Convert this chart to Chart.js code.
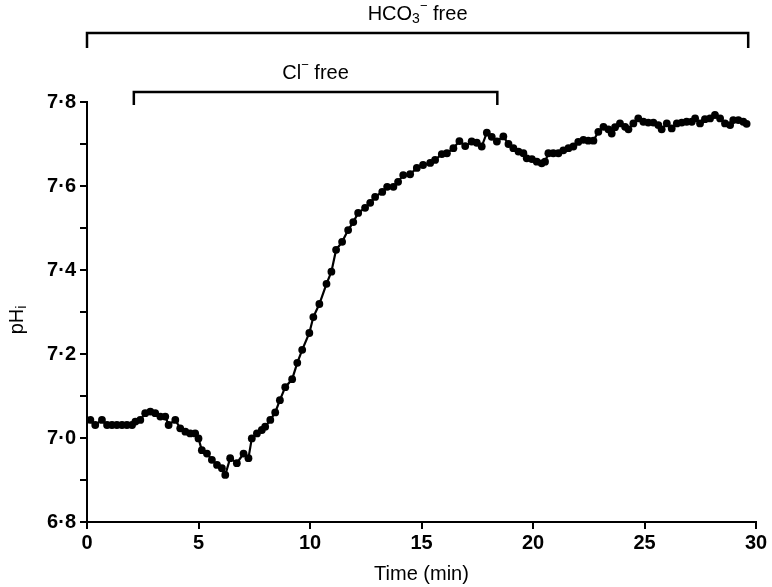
<!DOCTYPE html>
<html>
<head>
<meta charset="utf-8">
<script src="https://cdn.jsdelivr.net/npm/chart.js@4"></script>
<style>
  body { margin: 0; background: #fff; }
  #wrap { width: 772px; height: 587px; }
</style>
</head>
<body>
<div id="wrap"><canvas id="phChart" width="772" height="587"></canvas></div>
<script>
// time of each measurement (min)
const timeMin = [
    0.15, 0.37, 0.67, 0.90, 1.12, 1.34, 1.57, 1.79, 2.02, 2.17,
    2.39, 2.61, 2.84, 3.06, 3.29, 3.51, 3.66, 3.96, 4.18, 4.41,
    4.63, 4.85, 5.00, 5.15, 5.38, 5.60, 5.83, 6.05, 6.20, 6.42,
    6.72, 7.02, 7.24, 7.39, 7.62, 7.84, 7.99, 8.22, 8.44, 8.65,
    8.89, 9.20, 9.43, 9.65, 9.97, 10.15, 10.42, 10.74, 10.96, 11.17,
    11.44, 11.71, 11.94, 12.16, 12.47, 12.70, 12.92, 13.24, 13.46, 13.74,
    13.95, 14.18, 14.49, 14.79, 15.07, 15.39, 15.61, 15.91, 16.14, 16.43,
    16.70, 16.96, 17.25, 17.48, 17.70, 17.93, 18.15, 18.38, 18.67, 18.90,
    19.12, 19.35, 19.57, 19.72, 19.95, 20.17, 20.39, 20.54, 20.69, 20.91,
    21.14, 21.36, 21.59, 21.81, 22.03, 22.26, 22.48, 22.71, 22.93, 23.16,
    23.38, 23.53, 23.68, 23.90, 24.13, 24.28, 24.50, 24.72, 24.95, 25.17,
    25.40, 25.62, 25.77, 26.00, 26.22, 26.45, 26.67, 26.89, 27.12, 27.27,
    27.49, 27.71, 27.94, 28.16, 28.39, 28.61, 28.84, 28.98, 29.21, 29.43,
    29.58
];

// intracellular pH at each time
const phValues = [
    7.043, 7.031, 7.043, 7.031, 7.031, 7.031, 7.031, 7.031, 7.031, 7.039,
    7.043, 7.059, 7.063, 7.059, 7.051, 7.051, 7.031, 7.043, 7.023, 7.015,
    7.011, 7.011, 6.999, 6.971, 6.963, 6.948, 6.936, 6.928, 6.912, 6.952,
    6.940, 6.963, 6.952, 6.999, 7.011, 7.019, 7.027, 7.043, 7.061, 7.090,
    7.121, 7.140, 7.179, 7.210, 7.250, 7.288, 7.319, 7.367, 7.396, 7.448,
    7.467, 7.495, 7.514, 7.536, 7.548, 7.560, 7.574, 7.586, 7.598, 7.598,
    7.610, 7.626, 7.628, 7.643, 7.650, 7.655, 7.662, 7.676, 7.678, 7.690,
    7.707, 7.695, 7.706, 7.703, 7.694, 7.727, 7.717, 7.706, 7.718, 7.700,
    7.690, 7.682, 7.678, 7.666, 7.664, 7.658, 7.654, 7.658, 7.678, 7.678,
    7.678, 7.685, 7.690, 7.694, 7.705, 7.710, 7.708, 7.708, 7.729, 7.741,
    7.735, 7.725, 7.740, 7.749, 7.741, 7.735, 7.749, 7.761, 7.753, 7.751,
    7.751, 7.745, 7.735, 7.749, 7.737, 7.749, 7.751, 7.753, 7.753, 7.761,
    7.749, 7.759, 7.761, 7.769, 7.761, 7.749, 7.745, 7.757, 7.757, 7.753,
    7.748
];

// solution-change periods shown as brackets above the trace (min)
const bracketStart = [0, 2.1];
const bracketEnd = [29.65, 18.4];

const FONT = '"Liberation Sans", Arial, sans-serif';

// draws a run of text pieces (normal / sub / sup) centred on cx
function drawPieces(ctx, pieces, cx, cy) {
    let total = 0;
    pieces.forEach(p => {
        ctx.font = p.size + 'px ' + FONT;
        p.w = ctx.measureText(p.text).width;
        total += p.w;
    });
    let x = cx - total / 2;
    ctx.textAlign = 'left';
    ctx.textBaseline = 'middle';
    pieces.forEach(p => {
        ctx.font = p.size + 'px ' + FONT;
        ctx.fillText(p.text, x, cy + (p.dy || 0));
        x += p.w;
    });
}

const annotationPlugin = {
    id: 'brackets',
    afterDraw(chart) {
        const ctx = chart.ctx;
        const xs = chart.scales.x;
        const top = chart.chartArea.top;
        ctx.save();
        ctx.strokeStyle = '#000';
        ctx.fillStyle = '#000';
        ctx.lineWidth = 2.5;

        // bracket levels relative to the top of the plot area
        const levels = [top - 69, top - 10];
        const drops = [15, 13];
        for (let i = 0; i < bracketStart.length; i++) {
            const x1 = xs.getPixelForValue(bracketStart[i]);
            const x2 = xs.getPixelForValue(bracketEnd[i]);
            const y = levels[i];
            ctx.beginPath();
            ctx.moveTo(x1, y + drops[i]);
            ctx.lineTo(x1, y);
            ctx.lineTo(x2, y);
            ctx.lineTo(x2, y + drops[i]);
            ctx.stroke();
        }

        drawPieces(ctx, [
            { text: 'HCO', size: 20 },
            { text: '3', size: 14, dy: 5 },
            { text: '\u2212', size: 13, dy: -8 },
            { text: ' free', size: 20 }
        ], (xs.getPixelForValue(bracketStart[0]) + xs.getPixelForValue(bracketEnd[0])) / 2, top - 88);

        drawPieces(ctx, [
            { text: 'Cl', size: 20 },
            { text: '\u2212', size: 13, dy: -8 },
            { text: ' free', size: 20 }
        ], (xs.getPixelForValue(bracketStart[1]) + xs.getPixelForValue(bracketEnd[1])) / 2, top - 29);

        // y axis title pH with subscript i
        const midY = (chart.chartArea.top + chart.chartArea.bottom) / 2;
        ctx.translate(17, midY + 8);
        ctx.rotate(-Math.PI / 2);
        drawPieces(ctx, [
            { text: 'pH', size: 20 },
            { text: 'i', size: 14, dy: 5 }
        ], 0, 0);
        ctx.restore();
    }
};

const points = timeMin.map((t, i) => ({ x: t, y: phValues[i] }));

new Chart(document.getElementById('phChart').getContext('2d'), {
    type: 'line',
    data: {
        datasets: [{
            data: points,
            borderColor: '#000',
            backgroundColor: '#000',
            borderWidth: 2.2,
            pointRadius: 3.9,
            pointBorderWidth: 0,
            pointBackgroundColor: '#000',
            tension: 0
        }]
    },
    options: {
        responsive: false,
        animation: false,
        layout: {
            padding: { left: 0, right: 16, top: 102, bottom: 0 }
        },
        plugins: {
            legend: { display: false },
            tooltip: { enabled: false }
        },
        scales: {
            x: {
                type: 'linear',
                min: 0,
                max: 30,
                ticks: {
                    stepSize: 5,
                    color: '#000',
                    padding: 2,
                    font: { family: FONT, size: 20, weight: 'bold' }
                },
                grid: {
                    drawOnChartArea: false,
                    drawTicks: true,
                    tickLength: 7,
                    color: '#000',
                    lineWidth: 2
                },
                border: { color: '#000', width: 2 },
                title: {
                    display: true,
                    text: 'Time (min)',
                    color: '#000',
                    font: { family: FONT, size: 20 },
                    padding: { top: 0, bottom: 1 }
                },
                afterFit(scale) { scale.height = 65; }
            },
            y: {
                min: 6.8,
                max: 7.8,
                ticks: {
                    stepSize: 0.1,
                    color: '#000',
                    padding: 4,
                    font: { family: FONT, size: 20, weight: 'bold' },
                    callback: function(value, index) {
                        return index % 2 === 0 ? value.toFixed(1).replace('.', '\u00b7') : '';
                    }
                },
                grid: {
                    drawOnChartArea: false,
                    drawTicks: true,
                    tickLength: 7,
                    color: '#000',
                    lineWidth: 2
                },
                border: { color: '#000', width: 2 },
                afterFit(scale) { scale.width = 87; }
            }
        }
    },
    plugins: [annotationPlugin]
});
</script>
</body>
</html>
